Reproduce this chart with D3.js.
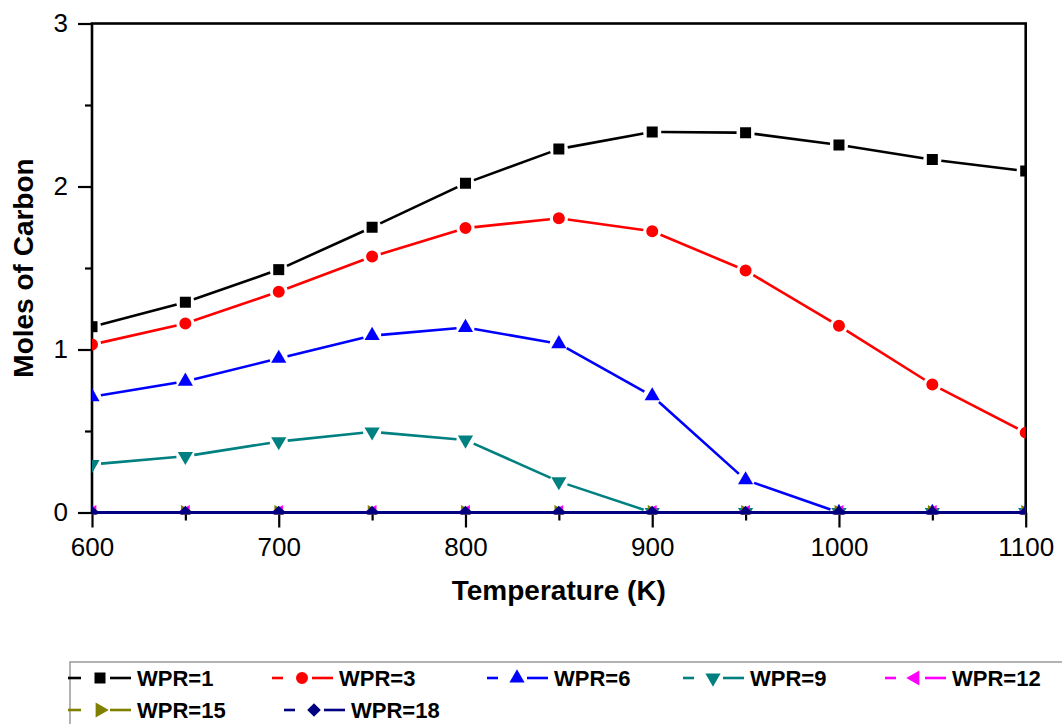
<!DOCTYPE html>
<html>
<head>
<meta charset="utf-8">
<script src="https://cdn.jsdelivr.net/npm/d3@7"></script>
<style>
  html, body { margin: 0; padding: 0; background: #fff; }
  svg { display: block; font-family: Arial, "Liberation Sans", sans-serif; }
</style>
</head>
<body>
<svg id="chart" width="1062" height="724"></svg>
<script>
// ---------- data ----------
const temperatures = [600, 650, 700, 750, 800, 850, 900, 950, 1000, 1050, 1100];
const seriesNames = ["WPR=1", "WPR=3", "WPR=6", "WPR=9", "WPR=12", "WPR=15", "WPR=18"];
const wpr1  = [1.14, 1.29, 1.49, 1.75, 2.02, 2.23, 2.335, 2.33, 2.255, 2.165, 2.095];
const wpr3  = [1.03, 1.16, 1.355, 1.57, 1.745, 1.805, 1.725, 1.485, 1.145, 0.785, 0.49];
const wpr6  = [0.71, 0.805, 0.945, 1.085, 1.135, 1.035, 0.715, 0.2, 0, 0, 0];
const wpr9  = [0.295, 0.345, 0.435, 0.495, 0.445, 0.19, 0, 0, 0, 0, 0];
const wpr12 = [0, 0, 0, 0, 0, 0, 0, 0, 0, 0, 0];
const wpr15 = [0, 0, 0, 0, 0, 0, 0, 0, 0, 0, 0];
const wpr18 = [0, 0, 0, 0, 0, 0, 0, 0, 0, 0, 0];
const seriesValues = [wpr1, wpr3, wpr6, wpr9, wpr12, wpr15, wpr18];
const xTickValues = [600, 700, 800, 900, 1000, 1100];
const xMinorTicks = [650, 750, 850, 950, 1050];
const yTickValues = [0, 1, 2, 3];
const yMinorTicks = [0.5, 1.5, 2.5];
const xTitle = "Temperature (K)";
const yTitle = "Moles of Carbon";

// ---------- styles ----------
const colors = ["#000000", "#ff0000", "#0000ff", "#008080", "#ff00ff", "#808000", "#000080"];
const shapes = ["square", "circle", "up", "down", "left", "right", "diamond"];

function markerPath(shape) {
  switch (shape) {
    case "square": return d3.symbol(d3.symbolSquare, 121)();
    case "circle": return d3.symbol(d3.symbolCircle, 113)();
    case "up":
    case "down":
    case "left":
    case "right": return d3.symbol(d3.symbolTriangle, 100)();
    case "diamond": return "M0,-6.8L6.8,0L0,6.8L-6.8,0Z";
  }
}
function markerRot(shape) {
  return {down: 180, left: -90, right: 90}[shape] || 0;
}

const svg = d3.select("#chart");
const x = d3.scaleLinear().domain([600, 1100]).range([92, 1025.7]);
const y = d3.scaleLinear().domain([0, 3]).range([512.5, 23.5]);

// clip
svg.append("defs").append("clipPath").attr("id", "plotclip")
  .append("rect").attr("x", x(600)).attr("y", y(3) - 2)
  .attr("width", x(1100) - x(600)).attr("height", y(0) - y(3) + 4);

// axes
const fontSize = 26;
const xAxis = svg.append("g").attr("transform", `translate(0,${y(0)})`)
  .call(d3.axisBottom(x).tickValues(xTickValues).tickSize(15).tickPadding(10).tickSizeOuter(0).tickFormat(d3.format("d")));
const xMinor = svg.append("g").attr("transform", `translate(0,${y(0)})`)
  .call(d3.axisBottom(x).tickValues(xMinorTicks).tickSize(8).tickFormat(""));
const yAxis = svg.append("g").attr("transform", `translate(${x(600)},0)`)
  .call(d3.axisLeft(y).tickValues(yTickValues).tickSize(14).tickPadding(10).tickSizeOuter(0).tickFormat(d3.format("d")));
const yMinor = svg.append("g").attr("transform", `translate(${x(600)},0)`)
  .call(d3.axisLeft(y).tickValues(yMinorTicks).tickSize(7).tickFormat(""));
[xAxis, xMinor, yAxis, yMinor].forEach(g => {
  g.attr("font-family", null).attr("font-size", null);
  g.select(".domain").remove();
  g.selectAll(".tick line").attr("stroke", "#000").attr("stroke-width", 2.2);
  g.selectAll(".tick text").attr("fill", "#000").style("font-size", fontSize + "px")
    .style("font-family", "Arial, 'Liberation Sans', sans-serif");
});

// frame
svg.append("rect")
  .attr("x", x(600)).attr("y", y(3))
  .attr("width", x(1100) - x(600)).attr("height", y(0) - y(3))
  .attr("fill", "none").attr("stroke", "#000").attr("stroke-width", 2.6);

// series
const plot = svg.append("g").attr("clip-path", "url(#plotclip)");
const gap = 9;
seriesValues.forEach((vals, si) => {
  const pts = temperatures.map((t, i) => [x(t), y(vals[i])]);
  const g = plot.append("g");
  const segs = [];
  for (let i = 0; i < pts.length - 1; i++) {
    const [x0, y0] = pts[i], [x1, y1] = pts[i + 1];
    const len = Math.hypot(x1 - x0, y1 - y0);
    const ux = (x1 - x0) / len, uy = (y1 - y0) / len;
    segs.push([[x0 + ux * gap, y0 + uy * gap], [x1 - ux * gap, y1 - uy * gap]]);
  }
  g.selectAll("line.seg").data(segs).join("line")
    .attr("x1", d => d[0][0]).attr("y1", d => d[0][1])
    .attr("x2", d => d[1][0]).attr("y2", d => d[1][1])
    .attr("stroke", colors[si]).attr("stroke-width", 2.6);
  g.selectAll("path.mk").data(pts).join("path")
    .attr("d", markerPath(shapes[si]))
    .attr("transform", d => `translate(${d[0]},${d[1]}) rotate(${markerRot(shapes[si])})`)
    .attr("fill", colors[si]);
});

// zero baseline drawn over by last series line (continuous)
plot.append("line")
  .attr("x1", x(600)).attr("x2", x(1100))
  .attr("y1", y(0)).attr("y2", y(0))
  .attr("stroke", colors[6]).attr("stroke-width", 3);

// titles
svg.append("text")
  .attr("x", (x(600) + x(1100)) / 2).attr("y", 600)
  .attr("text-anchor", "middle")
  .style("font-size", "28px").style("font-weight", "bold")
  .text(xTitle);
svg.append("text")
  .attr("transform", `translate(33,${(y(0) + y(3)) / 2}) rotate(-90)`)
  .attr("text-anchor", "middle")
  .style("font-size", "28px").style("font-weight", "bold")
  .text(yTitle);

// legend
const legendPos = [[70, 678], [272, 678], [487, 678], [683, 678], [885, 678], [70, 710], [284, 710]];
svg.append("rect")
  .attr("x", 70).attr("y", 662).attr("width", 1100).attr("height", 200)
  .attr("fill", "none").attr("stroke", "#a0a0a0").attr("stroke-width", 1.6);
const leg = svg.append("g");
seriesNames.forEach((name, si) => {
  const [lx, ly] = legendPos[si];
  const g = leg.append("g").attr("transform", `translate(${lx},${ly})`);
  g.append("line").attr("x1", si === 0 || si === 5 ? -2 : 0).attr("x2", 11).attr("y1", 0).attr("y2", 0)
    .attr("stroke", colors[si]).attr("stroke-width", 2.6);
  g.append("line").attr("x1", 40).attr("x2", 61).attr("y1", 0).attr("y2", 0)
    .attr("stroke", colors[si]).attr("stroke-width", 2.6);
  g.append("path").attr("d", markerPath(shapes[si]))
    .attr("transform", `translate(30,0) rotate(${markerRot(shapes[si])})`)
    .attr("fill", colors[si]);
  g.append("text").attr("x", 67).attr("y", 0).attr("dy", "0.36em")
    .style("font-size", "22px").style("font-weight", "bold")
    .text(name);
});
</script>
</body>
</html>
